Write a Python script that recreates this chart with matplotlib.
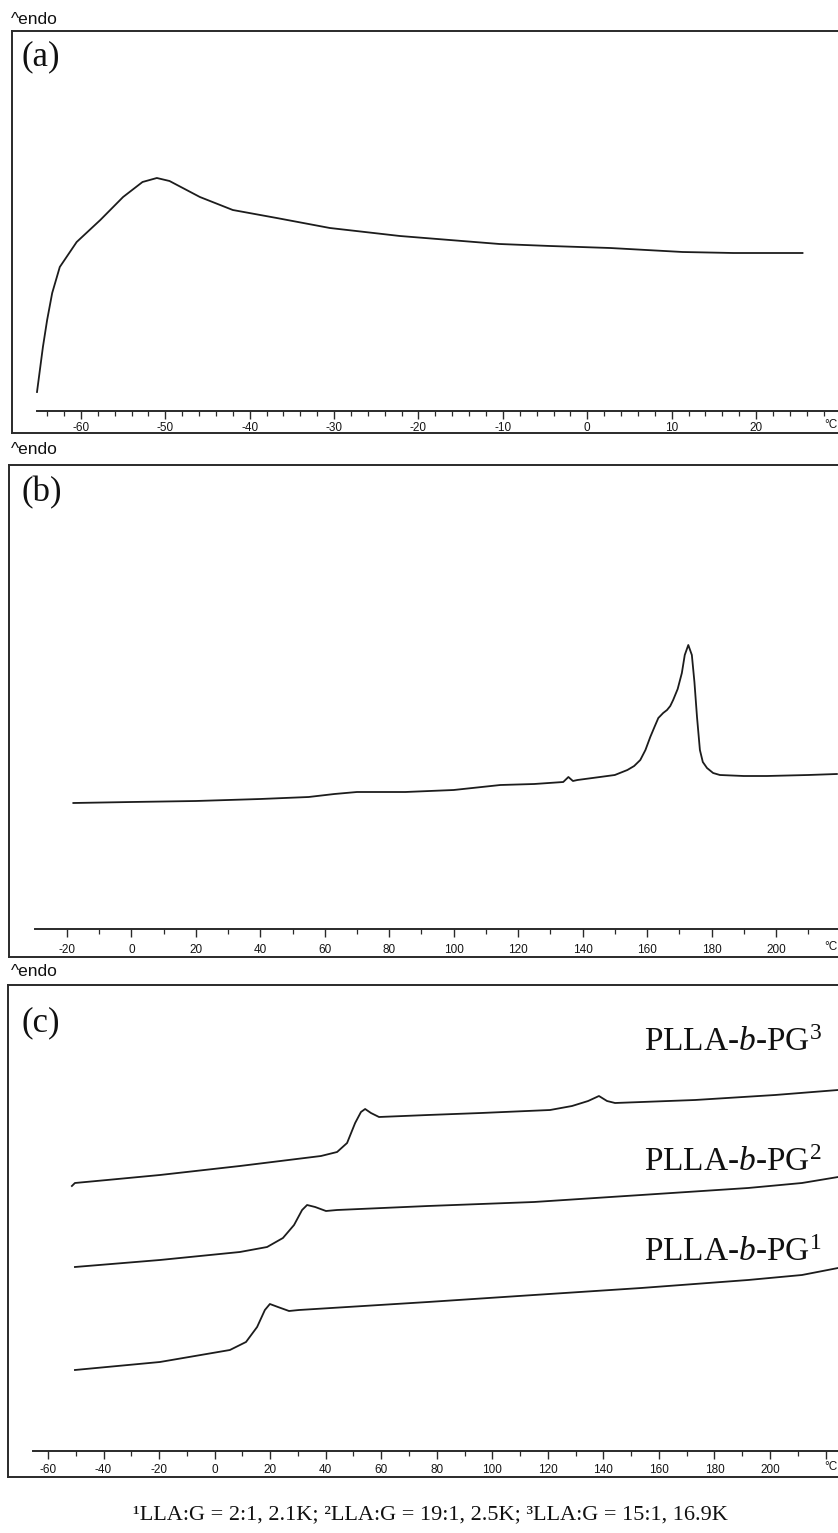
import matplotlib
matplotlib.use('Agg')
import matplotlib.pyplot as plt
from matplotlib.ticker import FixedLocator, FixedFormatter, MultipleLocator

W, H = 838, 1533
plt.rcParams['mathtext.fontset'] = 'custom'
plt.rcParams['mathtext.rm'] = 'Liberation Serif'
plt.rcParams['mathtext.it'] = 'Liberation Serif:italic'

# ---------------- data (temperature in °C, heat flow in arbitrary units, endo up) ----------------
a_temp = [-65.2, -64.5, -64.0, -63.4, -62.5, -60.5, -57.7, -55.0, -52.7, -51.0, -49.5, -45.9,
          -42.0, -36.8, -30.5, -22.2, -16.3, -10.4, -4.4, 2.7, 11.3, 17.3, 25.5]
a_flow = [0.19, 0.64, 0.91, 1.18, 1.44, 1.69, 1.91, 2.14, 2.29, 2.33, 2.30, 2.14,
          2.01, 1.93, 1.83, 1.75, 1.71, 1.67, 1.65, 1.63, 1.59, 1.58, 1.58]

b_temp = [-18, 0, 20, 40, 55, 63, 70, 85, 100, 114.5, 125, 134, 135.6, 137, 138.4, 145.4, 150,
          153.9, 156, 157.9, 159.5, 161, 162.3, 163.5, 165, 166.2, 167.2, 168.1, 169.5, 170.8,
          171.7, 172.8, 173.9, 174.7, 175.5, 176.4, 177.3, 178.6, 180.5, 182.6, 190, 197.2, 210, 218.9]
b_flow = [1.26, 1.27, 1.28, 1.30, 1.32, 1.35, 1.37, 1.37, 1.39, 1.44, 1.45, 1.47, 1.52, 1.48, 1.49,
          1.52, 1.54, 1.59, 1.63, 1.69, 1.79, 1.92, 2.02, 2.11, 2.16, 2.19, 2.23, 2.29, 2.40, 2.56,
          2.74, 2.84, 2.74, 2.47, 2.12, 1.79, 1.67, 1.61, 1.56, 1.54, 1.53, 1.53, 1.54, 1.55]

c3_temp = [-51.4, -50.3, -38.7, -19.7, 9.1, 38.3, 44.1, 47.7, 50.6, 52.7, 54.2, 56.3, 59.2, 76.8,
           95.9, 120.8, 128.7, 134.5, 138.4, 141.3, 144.2, 173.0, 201.8, 224.5]
c3_flow = [2.65, 2.68, 2.71, 2.76, 2.85, 2.95, 2.99, 3.08, 3.28, 3.39, 3.42, 3.38, 3.34, 3.36,
           3.38, 3.41, 3.45, 3.50, 3.55, 3.50, 3.48, 3.51, 3.56, 3.61]

c2_temp = [-50.3, -19.7, 9.1, 18.9, 24.6, 28.6, 31.5, 33.3, 36.2, 40.1, 44.1, 76.8, 115.0, 153.6,
           192.1, 211.5, 224.5]
c2_flow = [1.84, 1.91, 1.99, 2.04, 2.13, 2.26, 2.41, 2.46, 2.44, 2.40, 2.41, 2.45, 2.49, 2.56,
           2.63, 2.68, 2.74]

c1_temp = [-50.3, -19.7, 5.5, 11.3, 15.3, 18.1, 19.9, 22.8, 26.8, 30.4, 76.8, 115.0, 153.6,
           192.1, 211.5, 224.5]
c1_flow = [0.81, 0.89, 1.01, 1.09, 1.24, 1.41, 1.47, 1.44, 1.40, 1.41, 1.49, 1.56, 1.63,
           1.71, 1.76, 1.83]

a_ticks = [-60, -50, -40, -30, -20, -10, 0, 10, 20, 30]
b_ticks = [-20, 0, 20, 40, 60, 80, 100, 120, 140, 160, 180, 200, 220]
c_ticks = [-60, -40, -20, 0, 20, 40, 60, 80, 100, 120, 140, 160, 180, 200, 220]
unit_label = '°C'

series_labels = ['PLLA-$\\mathit{b}$-PG$^{3}$', 'PLLA-$\\mathit{b}$-PG$^{2}$', 'PLLA-$\\mathit{b}$-PG$^{1}$']
footnote = '¹LLA:G = 2:1, 2.1K; ²LLA:G = 19:1, 2.5K; ³LLA:G = 15:1, 16.9K'

# ---------------- layout (pixels) ----------------
fig = plt.figure(figsize=(W / 100, H / 100), dpi=100)
INK = '#1c1c1c'
EDGE = '#2a2a2a'


def rect(l, t, r, b):
    return [l / W, 1 - b / H, (r - l) / W, (b - t) / H]


panels = [
    dict(tag='(a)', frame=(12, 31, 900, 433), axis_y=411, x0=37, t0=-65.2, scale=8.44,
         ticks=a_ticks, minor=2, endo_y=20, tag_y=57, pad=2.5, lab_y=425,
         curves=[(a_temp, a_flow)]),
    dict(tag='(b)', frame=(9, 465, 900, 957), axis_y=929, x0=35, t0=-29.9, scale=3.223,
         ticks=b_ticks, minor=10, endo_y=450, tag_y=493, pad=5.0, lab_y=947,
         curves=[(b_temp, b_flow)]),
    dict(tag='(c)', frame=(8, 985, 900, 1477), axis_y=1451, x0=33, t0=-65.4, scale=2.777,
         ticks=c_ticks, minor=10, endo_y=971, tag_y=1023, pad=4.0, lab_y=1467,
         curves=[(c3_temp, c3_flow), (c2_temp, c2_flow), (c1_temp, c1_flow)]),
]

for p in panels:
    l, t, r, b = p['frame']
    fr = fig.add_axes(rect(l, t, r, b))
    fr.set_xticks([])
    fr.set_yticks([])
    for s in fr.spines.values():
        s.set_color(EDGE)
        s.set_linewidth(1.4)
    fr.set_facecolor('white')

    ax = fig.add_axes(rect(p['x0'], t, r, p['axis_y']))
    ax.patch.set_alpha(0)
    for name in ('top', 'left', 'right'):
        ax.spines[name].set_visible(False)
    ax.spines['bottom'].set_color(EDGE)
    ax.spines['bottom'].set_linewidth(1.4)
    ax.set_xlim(p['t0'], p['t0'] + (r - p['x0']) / p['scale'])
    ax.set_ylim(0, (p['axis_y'] - t) / 100)
    ax.set_yticks([])
    labels = [str(v) for v in p['ticks'][:-1]] + ['']
    ax.xaxis.set_major_locator(FixedLocator(p['ticks']))
    ax.xaxis.set_major_formatter(FixedFormatter(labels))
    ax.xaxis.set_minor_locator(MultipleLocator(p['minor']))
    ax.tick_params(axis='x', which='major', direction='out', length=5.5, width=1.0,
                   color=EDGE, labelsize=8.5, pad=p['pad'], labelcolor='#151515')
    ax.tick_params(axis='x', which='minor', direction='out', length=3.5, width=0.9,
                   color=EDGE)
    for lab in ax.get_xticklabels():
        lab.set_family('Liberation Sans')
    for tt, ff in p['curves']:
        ax.plot(tt, ff, color=INK, lw=1.3, solid_joinstyle='round', clip_on=False)

    fig.text(837 / W, 1 - p['lab_y'] / H, unit_label, family='Liberation Sans', fontsize=8.5,
             va='center', ha='right', color='#151515')
    fig.text(11 / W, 1 - p['endo_y'] / H, '^endo', family='Liberation Sans', fontsize=12.5,
             va='center', ha='left', color='#111')
    fig.text(21 / W, 1 - p['tag_y'] / H, p['tag'], family='Liberation Serif', fontsize=25,
             va='center', ha='left', color='#111')

for lab, y in zip(series_labels, [1043, 1163, 1253]):
    fig.text(822 / W, 1 - y / H, lab, family='Liberation Serif', fontsize=24,
             va='center', ha='right', color='#111')

fig.text(430 / W, 1 - 1515 / H, footnote, family='Liberation Serif', fontsize=16,
         va='center', ha='center', color='#111')

fig.savefig('out.png', dpi=100, facecolor='white')
